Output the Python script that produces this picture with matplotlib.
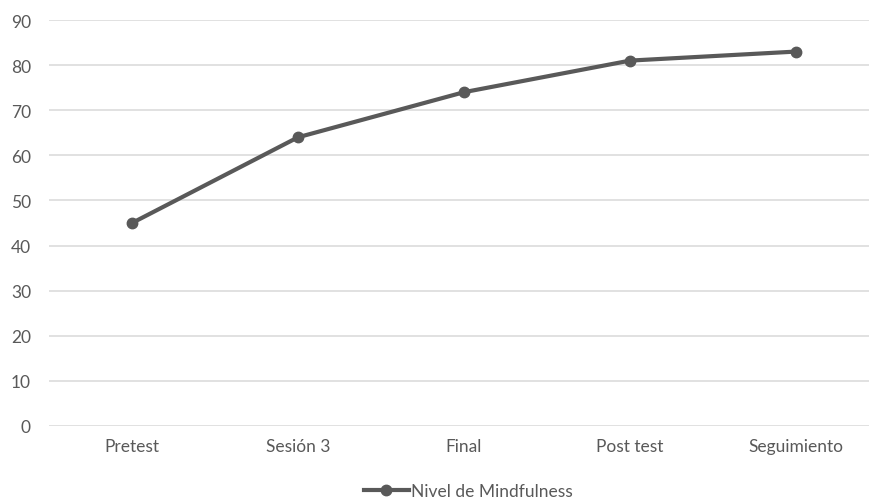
import matplotlib.pyplot as plt
from matplotlib.lines import Line2D

etapas = ["Pretest", "Sesión 3", "Final", "Post test", "Seguimiento"]
mindfulness = [45, 64, 74, 81, 83]
y_ticks = list(range(0, 100, 10))

plt.rcParams["font.family"] = ["Lato", "DejaVu Sans"]
text_color = "#595959"
line_color = "#595959"

fig = plt.figure(figsize=(8.7, 5.02), dpi=100)
ax = fig.add_axes([49 / 870, 1 - 427 / 502, 830 / 870, 406 / 502])

x = range(len(etapas))
ax.plot(x, mindfulness, color=line_color, lw=3.0, marker="o", ms=7.5,
        solid_capstyle="round", clip_on=False, zorder=3)

ax.set_xlim(-0.5, len(etapas) - 0.5)
ax.set_ylim(0, 90)
ax.set_yticks(y_ticks)
ax.set_xticks(list(x))
ax.set_xticklabels(etapas)
ax.grid(axis="y", color="#d9d9d9", lw=1.1)
ax.set_axisbelow(True)
for s in ax.spines.values():
    s.set_visible(False)
ax.tick_params(length=0, colors=text_color, labelsize=12.5)
ax.tick_params(axis="x", pad=9)
ax.tick_params(axis="y", pad=13)

handle = Line2D([], [], color=line_color, lw=3.0, marker="o", ms=7.5)
fig.legend([handle], ["Nivel de Mindfulness"], loc="center",
           bbox_to_anchor=(468 / 870, 1 - 492 / 502), frameon=False,
           handlelength=2.6, handletextpad=0.1, fontsize=12.5,
           labelcolor=text_color)

fig.savefig("out.png", dpi=100)
